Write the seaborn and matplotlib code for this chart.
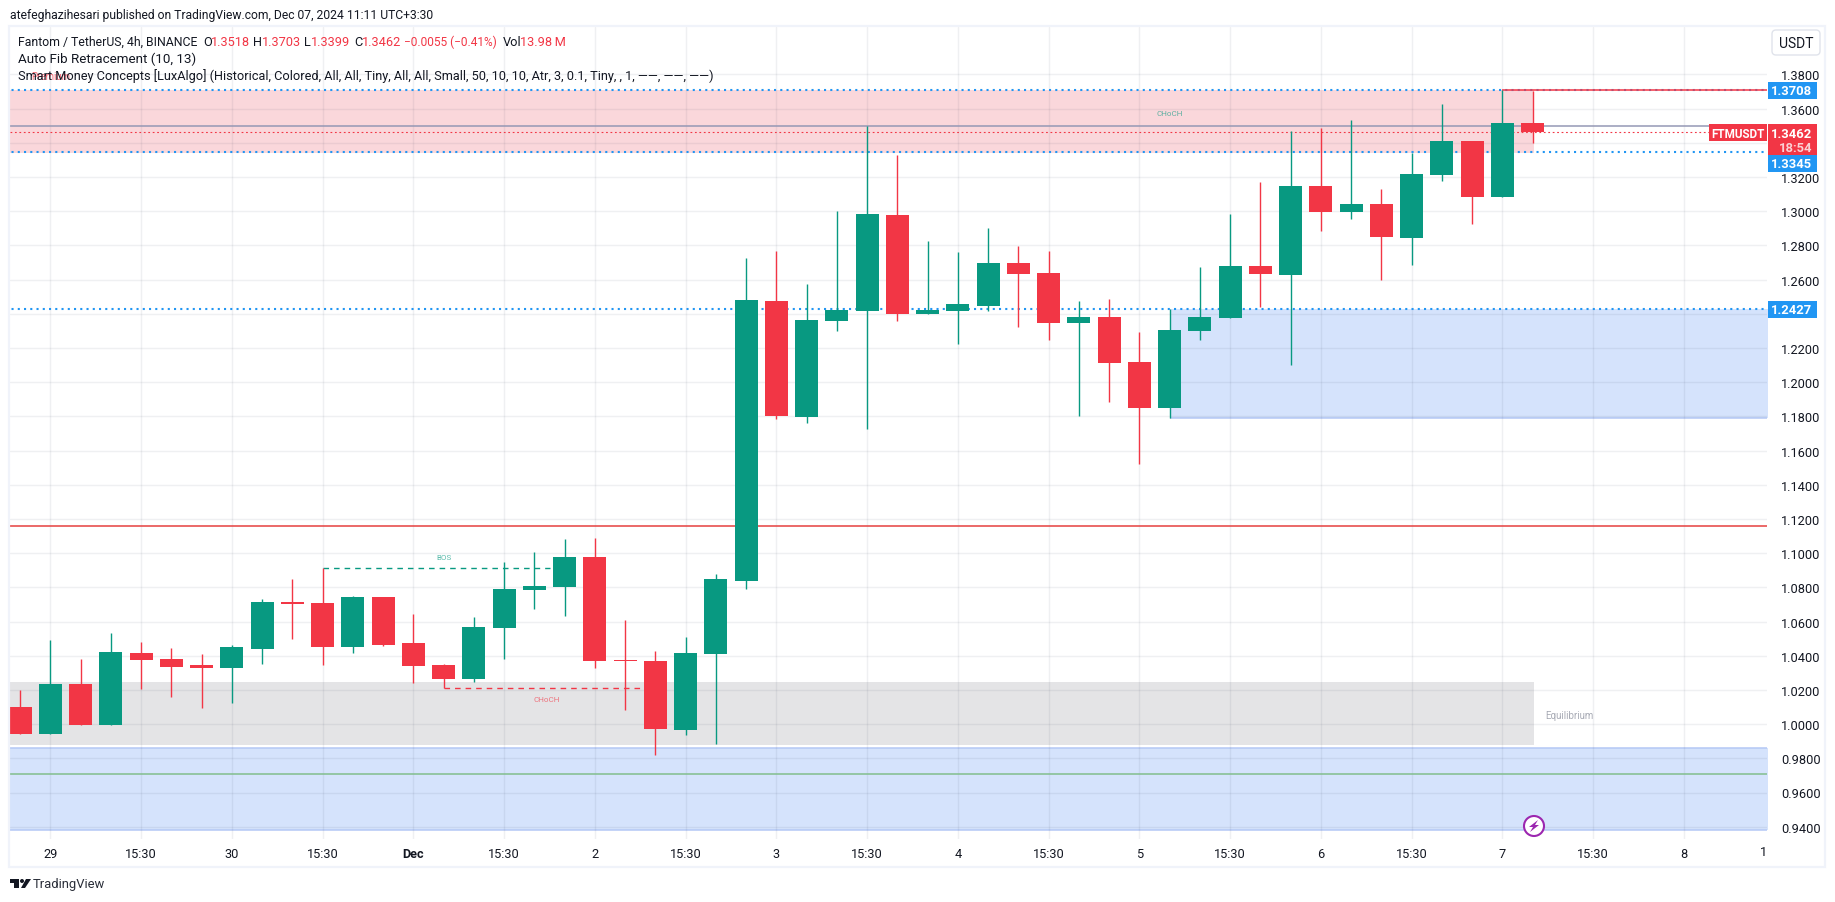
import matplotlib
matplotlib.use("Agg")
import matplotlib.pyplot as plt
from matplotlib.patches import Circle, FancyBboxPatch, Polygon, Rectangle
import pandas as pd
import seaborn as sns

# candles, index 0 = the "29" tick, 6 candles a day
candle_idx = list(range(-1, 50))
open_ = [1.0098, 0.9940, 1.0232, 0.9992, 1.0414, 1.0379, 1.0343, 1.0326, 1.0437, 1.0712,
         1.0706, 1.0449, 1.0741, 1.0472, 1.0343, 1.0261, 1.0560, 1.0782, 1.0800, 1.0976,
         1.0373, 1.0367, 0.9963, 1.0408, 1.0836, 1.2473, 1.1795, 1.2356, 1.2415, 1.2976,
         1.2397, 1.2415, 1.2444, 1.2696, 1.2637, 1.2345, 1.2380, 1.2117, 1.1848, 1.2298,
         1.2374, 1.2678, 1.2625, 1.3146, 1.2994, 1.3041, 1.2842, 1.3210, 1.3409, 1.3081, 1.3518]
high = [1.0199, 1.0490, 1.0379, 1.0531, 1.0478, 1.0443, 1.0408, 1.0460, 1.0730, 1.0847,
        1.0911, 1.0747, 1.0741, 1.0642, 1.0349, 1.0624, 1.0946, 1.1005, 1.1081, 1.1087,
        1.0607, 1.0425, 1.0507, 1.0876, 1.2725, 1.2766, 1.2573, 1.2999, 1.3495, 1.3327,
        1.2824, 1.2760, 1.2900, 1.2795, 1.2766, 1.2473, 1.2485, 1.2292, 1.2427, 1.2672,
        1.2982, 1.3169, 1.3467, 1.3485, 1.3532, 1.3128, 1.3339, 1.3625, 1.3409, 1.3707, 1.3703]
low = [0.9940, 0.9940, 0.9992, 0.9992, 1.0203, 1.0156, 1.0092, 1.0121, 1.0349, 1.0496,
       1.0343, 1.0414, 1.0455, 1.0238, 1.0209, 1.0244, 1.0379, 1.0671, 1.0630, 1.0326,
       1.0080, 0.9817, 0.9934, 0.9881, 1.0789, 1.1783, 1.1760, 1.2298, 1.1725, 1.2356,
       1.2397, 1.2222, 1.2415, 1.2321, 1.2245, 1.1801, 1.1883, 1.1520, 1.1789, 1.2245,
       1.2374, 1.2438, 1.2099, 1.2883, 1.2953, 1.2596, 1.2684, 1.3175, 1.2924, 1.3081, 1.3399]
close = [0.9940, 1.0232, 0.9992, 1.0420, 1.0373, 1.0332, 1.0326, 1.0449, 1.0712, 1.0700,
         1.0449, 1.0741, 1.0460, 1.0338, 1.0261, 1.0566, 1.0788, 1.0806, 1.0976, 1.0367,
         1.0367, 0.9969, 1.0414, 1.0847, 1.2479, 1.1801, 1.2362, 1.2421, 1.2982, 1.2397,
         1.2421, 1.2456, 1.2696, 1.2631, 1.2345, 1.2380, 1.2111, 1.1848, 1.2304, 1.2380,
         1.2678, 1.2631, 1.3146, 1.2994, 1.3041, 1.2848, 1.3216, 1.3409, 1.3081, 1.3514, 1.3462]

price_ticks = [1.38 - 0.02 * n for n in range(23)]
hidden_price_labels = ["1.3400", "1.2400"]  # sit behind the tags in the original
time_ticks = list(range(0, 55, 3))
time_labels = ["29", "15:30", "30", "15:30", "Dec", "15:30", "2", "15:30", "3", "15:30",
               "4", "15:30", "5", "15:30", "6", "15:30", "7", "15:30", "8"]

fib_levels = [1.3708, 1.3345, 1.2427]
level_tags = ["1.3708", "1.3345", "1.2427"]
last_price = 1.3462
last_label = "1.3462"
countdown = "18:54"
poc_price = 1.3495
red_level = 1.1156
green_level = 0.9707
premium_zone = (1.3339, 1.3707)
demand_zone = (1.1789, 1.2427)
equilibrium_zone = (0.9875, 1.0244)
discount_zone = (0.9379, 0.9863)
bos_level = 1.0911
choch_low_level = 1.0213

GREEN = "#089981"
RED = "#F23645"
BLUE = "#2196F3"
INK = "#131722"
W, H = 1835, 903

sns.set_theme(style="white")
plt.rcParams["font.family"] = ["Roboto", "DejaVu Sans"]

fig = plt.figure(figsize=(W / 100, H / 100), dpi=100)
ax = fig.add_axes([10 / W, 1 - 840 / H, 1757 / W, 812 / H])


def px_x(x):
    return x / W


def px_y(y):
    return 1 - y / H


def label(x, y, text, color=INK, size=9.2, **kw):
    kw.setdefault("va", "center")
    return fig.text(px_x(x), px_y(y), text, color=color, fontsize=size, **kw)


df = pd.DataFrame({"i": candle_idx, "open": open_, "high": high, "low": low, "close": close})
df["up"] = df["close"] >= df["open"]
df["base"] = df[["open", "close"]].min(axis=1)
df["body"] = (df["close"] - df["open"]).abs()

# zones sit under the candles
ax.fill_between([-2, 49.03], *premium_zone, color="#E6374B", alpha=0.2, lw=0, zorder=1)
ax.fill_between([37, 58], *demand_zone, color="#2D73F0", alpha=0.2, lw=0, zorder=1)
ax.fill_between([-2, 49.03], *equilibrium_zone, color="#787B86", alpha=0.2, lw=0, zorder=1)
ax.fill_between([-2, 58], *discount_zone, color="#2D73F0", alpha=0.2, lw=0, zorder=1)
ax.hlines(discount_zone, -2, 58, color="#B4C8F5", lw=1.1, zorder=1.1)
ax.hlines(demand_zone[0], 37, 58, color="#B4C8F5", lw=1.1, zorder=1.1)

ax.axhline(poc_price, color="#9598B5", lw=1.1, zorder=1.6)
ax.axhline(red_level, color="#E5403F", lw=1.1, zorder=1.6)
ax.axhline(green_level, color="#82BE8C", lw=1.1, zorder=1.6)
ax.hlines(fib_levels[0], 48, 58, color=RED, lw=1.1, zorder=2.5)
ax.hlines(fib_levels, -2, 58, color=BLUE, lw=1.5, linestyles=(0, (1, 2)), zorder=2)
ax.axhline(last_price, color=RED, lw=0.8, ls=(0, (1.6, 2.4)), zorder=2)
ax.hlines(bos_level, 9, 16.5, color=GREEN, lw=1, linestyles=(0, (4, 3.6)), zorder=2)
ax.hlines(choch_low_level, 13, 20, color=RED, lw=1, linestyles=(0, (4, 3.6)), zorder=2)
ax.vlines(13, choch_low_level, low[14], color=RED, lw=0.8, zorder=2)

for is_up, color in [(True, GREEN), (False, RED)]:
    part = df[df["up"] == is_up]
    ax.vlines(part["i"], part["low"], part["high"], color=color, lw=1, zorder=3)
    sns.barplot(data=part, x="i", y="body", native_scale=True, orient="x", bottom=part["base"].values,
                width=0.76, color=color, saturation=1, errorbar=None, linewidth=0, zorder=4, ax=ax)

ax.set_xlim((10 - 50.4) / 30.25, (1767 - 50.4) / 30.25)
ax.set_ylim(1.38 - (840 - 75.3) / 1710, 1.38 + (75.3 - 28) / 1710)
ax.set_xlabel("")
ax.set_ylabel("")
ax.set_xticks(time_ticks, time_labels)
price_labels = [f"{p:.4f}" for p in price_ticks]
ax.set_yticks(price_ticks, ["" if t in hidden_price_labels else t for t in price_labels])
ax.yaxis.tick_right()
ax.tick_params(axis="y", length=0, pad=10, labelsize=9.2, labelcolor=INK)
ax.tick_params(axis="x", length=0, pad=6, labelsize=9.2, labelcolor=INK)
for tick_text in ax.get_xticklabels():
    if tick_text.get_text() == "Dec":
        tick_text.set_fontweight("bold")
# see-through grid so it stays visible on top of the zones
ax.grid(True, color="#2A3550", alpha=0.07, lw=1)
ax.set_axisbelow("line")
for spine in ax.spines.values():
    spine.set_visible(False)
label(1763, 853, "1", size=9.2, ha="center")

# small labels from the indicator
ax.text(0, 1.3792, "Premium", color=RED, alpha=0.75, fontsize=7, ha="center", va="center", zorder=6)
ax.text(37, 1.3571, "CHoCH", color=GREEN, alpha=0.65, fontsize=5.8, ha="center", va="center", zorder=6)
ax.text(13, 1.0980, "BOS", color=GREEN, alpha=0.65, fontsize=5.8, ha="center", va="center", zorder=6)
ax.text(16.4, 1.0148, "CHoCH", color=RED, alpha=0.65, fontsize=5.8, ha="center", va="center", zorder=6)
ax.text(50.2, 1.0053, "Equilibrium", color="#A8ABB5", fontsize=7, ha="center", va="center", zorder=6)

# frame round the chart
fig.add_artist(Rectangle((px_x(9), px_y(868)), 1816 / W, 841 / H, transform=fig.transFigure,
                         fill=False, ec="#F0F3FA", lw=1.6))

# alert icon
fig.add_artist(Circle((1534, H - 827), 10, transform=None, fc="white", ec="#9C27B0", lw=1.5, zorder=8))
bolt = [(1538, 821), (1529, 828), (1533, 828), (1530, 833), (1539, 826), (1535, 826)]
fig.add_artist(Polygon([(x, H - y) for x, y in bolt], transform=None, fc="#9C27B0", ec="none", zorder=9))

# header and legend rows
label(10, 15, "atefeghazihesari published on TradingView.com, Dec 07, 2024 11:11 UTC+3:30", size=8.7)
label(18, 42, "Fantom / TetherUS, 4h, BINANCE", size=8.85)
for x, text, color in [(203, "O", INK), (211, "1.3518", RED), (253, "H", INK), (262, "1.3703", RED),
                       (304, "L", INK), (311, "1.3399", RED), (354, "C", INK), (362, "1.3462", RED),
                       (404, "\u22120.0055 (\u22120.41%)", RED), (503, "Vol", INK), (520, "13.98\u2009M", RED)]:
    size = 8.6 if text.startswith("\u2212") else 9.2
    label(x, 42, text, color=color, size=size)
label(18, 59, "Auto Fib Retracement (10, 13)", size=9.6)
label(18, 76, "Smart Money Concepts [LuxAlgo] (Historical, Colored, All, All, Tiny, All, All, Small, 50, 10, 10, "
      "Atr, 3, 0.1, Tiny, , 1, \u2014\u2014, \u2014\u2014, \u2014\u2014)", size=9.2)

# USDT button
fig.add_artist(FancyBboxPatch((1772, H - 56), 48, 25, boxstyle="round,pad=0,rounding_size=4", transform=None,
                              fc="white", ec="#E0E3EB", lw=1))
label(1796, 44, "USDT", size=10, ha="center")


# price tags on the axis
def tag(y0, y1, color, x0=1768, x1=1817):
    fig.add_artist(Rectangle((x0, H - y1), x1 - x0, y1 - y0, transform=None, fc=color, ec="none", zorder=7))


def tag_price(price):
    return 75.3 + (1.38 - price) * 1710


y_top = tag_price(fib_levels[0])
tag(y_top - 8.5, y_top + 8.5, BLUE)
label(1812, y_top, level_tags[0], color="white", size=9.4, ha="right", fontweight="bold", zorder=8)
tag(125, 156, RED)
label(1812, 134, last_label, color="white", size=9.4, ha="right", fontweight="bold", zorder=8)
label(1812, 148, countdown, color="#FBD0D4", size=9.4, ha="right", fontweight="bold", zorder=8)
tag(156, 173, BLUE)
label(1812, 165, level_tags[1], color="white", size=9.4, ha="right", fontweight="bold", zorder=8)
y_low = tag_price(fib_levels[2])
tag(y_low - 8.5, y_low + 8.5, BLUE)
label(1812, y_low, level_tags[2], color="white", size=9.4, ha="right", fontweight="bold", zorder=8)
tag(125, 142, RED, x0=1709, x1=1767)
label(1738, 134, "FTMUSDT", color="white", size=8.4, ha="center", fontweight="bold", zorder=8)

# TradingView mark and name
fig.add_artist(Rectangle((10, H - 884), 9, 4, transform=None, fc=INK, ec="none"))
fig.add_artist(Rectangle((14, H - 889), 5, 9, transform=None, fc=INK, ec="none"))
fig.add_artist(Circle((22, H - 882), 2, transform=None, fc=INK, ec="none"))
fig.add_artist(Polygon([(21, H - 889), (26, H - 880), (31, H - 880), (25, H - 889)], transform=None, fc=INK, ec="none"))
label(33, 885, "TradingView", color="#2A2E39", size=9.4)

fig.savefig("out.png", dpi=100)
